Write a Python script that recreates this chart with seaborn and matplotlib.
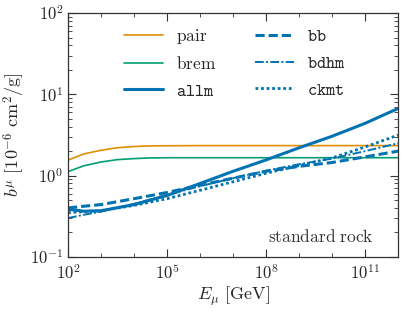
import numpy as np
import pandas as pd
import matplotlib
matplotlib.use("Agg")
import matplotlib.pyplot as plt
import matplotlib.ticker as mticker
import seaborn as sns

# energies in GeV
E_rad = [1e2, 3e2, 1e3, 3e3, 1e4, 3e4, 1e5, 1e6, 1e7, 1e8, 1e9, 1e10, 1e11, 1e12]
pair = [1.55, 1.85, 2.05, 2.20, 2.28, 2.32, 2.33, 2.34, 2.34, 2.34, 2.34, 2.34, 2.34, 2.34]
brem = [1.12, 1.32, 1.47, 1.57, 1.62, 1.65, 1.66, 1.66, 1.66, 1.66, 1.66, 1.66, 1.66, 1.66]

E_nuc = [1e2, 3e2, 1e3, 1e4, 1e5, 1e6, 1e7, 1e8, 1e9, 1e10, 1e11, 1e12]
allm = [0.385, 0.365, 0.37, 0.44, 0.57, 0.80, 1.13, 1.56, 2.20, 3.05, 4.40, 6.70]
bb = [0.40, 0.42, 0.44, 0.52, 0.62, 0.76, 0.93, 1.13, 1.30, 1.45, 1.70, 2.00]
bdhm = [0.30, 0.33, 0.36, 0.45, 0.58, 0.74, 0.93, 1.15, 1.38, 1.62, 2.00, 2.50]
ckmt = [0.35, 0.36, 0.37, 0.43, 0.52, 0.66, 0.84, 1.07, 1.33, 1.65, 2.25, 3.15]

sns.set_style("ticks")
plt.rcParams["mathtext.fontset"] = "cm"
plt.rcParams["font.family"] = ["DejaVu Serif"]
plt.rcParams["xtick.direction"] = "in"
plt.rcParams["ytick.direction"] = "in"

pal = sns.color_palette("colorblind")
blue, orange, green = pal[0], pal[1], pal[2]

fig = plt.figure(figsize=(4.05, 3.11), dpi=100)
ax = fig.add_axes([0.168, 0.174, 0.815, 0.784])

sns.lineplot(x=E_rad, y=pair, ax=ax, color=orange, lw=1.2, label=r"$\mathrm{pair}$")
sns.lineplot(x=E_rad, y=brem, ax=ax, color=green, lw=1.2, label=r"$\mathrm{brem}$")
sns.lineplot(x=E_nuc, y=allm, ax=ax, color=blue, lw=2.2, label=r"$\mathtt{allm}$")
sns.lineplot(x=E_nuc, y=bb, ax=ax, color=blue, lw=2.2, label=r"$\mathtt{bb}$")
ax.lines[-1].set_dashes((3, 1.3))
sns.lineplot(x=E_nuc, y=bdhm, ax=ax, color=blue, lw=1.4, label=r"$\mathtt{bdhm}$")
ax.lines[-1].set_dashes((4.5, 1.2, 1, 1.2))
sns.lineplot(x=E_nuc, y=ckmt, ax=ax, color=blue, lw=2.0, label=r"$\mathtt{ckmt}$")
ax.lines[-1].set_dashes((1, 1))

ax.set_xscale("log")
ax.set_yscale("log")
ax.set_xlim(1e2, 1e12)
ax.set_ylim(1e-1, 1e2)

ax.xaxis.set_major_locator(mticker.FixedLocator([1e2, 1e5, 1e8, 1e11]))
ax.xaxis.set_minor_locator(mticker.LogLocator(base=10, subs=(1.0,), numticks=20))
ax.xaxis.set_minor_formatter(mticker.NullFormatter())
ax.xaxis.set_major_formatter(mticker.FuncFormatter(lambda v, p: r"$10^{%d}$" % round(np.log10(v))))
ax.yaxis.set_major_formatter(mticker.FuncFormatter(lambda v, p: r"$10^{%d}$" % round(np.log10(v))))
ax.tick_params(which="both", top=True, right=True, labelsize=12, color="#333333")
ax.tick_params(which="major", length=6, width=0.8)
ax.tick_params(which="minor", length=3, width=0.6)
ax.tick_params(axis="x", which="major", pad=5)
for s in ax.spines.values():
    s.set_color("#333333")
    s.set_linewidth(0.9)

ax.set_xlabel(r"$E_{\mu}\ [\mathrm{GeV}]$", fontsize=13, labelpad=1)
ax.set_ylabel(r"$b^{\mu}\ [10^{-6}\ \mathrm{cm}^2/\mathrm{g}]$", fontsize=13, labelpad=2)

ax.text(0.925, 0.08, r"$\mathrm{standard\ rock}$", transform=ax.transAxes,
        ha="right", va="center", fontsize=12.5, color="#333333")

ax.legend(ncol=2, frameon=False, loc="upper center", bbox_to_anchor=(0.505, 1.005),
          fontsize=12.5, handlelength=2.25, handletextpad=0.75, columnspacing=2.2,
          labelspacing=0.55)

fig.savefig("out.png", dpi=100)
